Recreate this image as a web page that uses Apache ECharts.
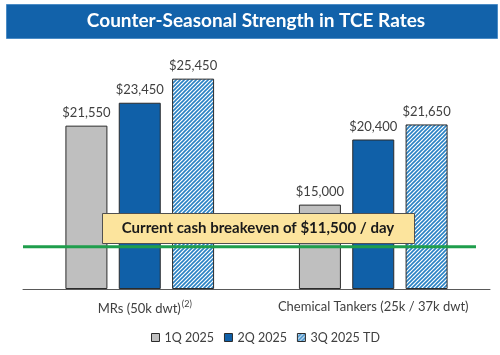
<!DOCTYPE html>
<html>
<head>
<meta charset="utf-8">
<script src="https://cdn.jsdelivr.net/npm/echarts@6/dist/echarts.min.js"></script>
<style>
html,body{margin:0;padding:0;background:#fff;}
#main{width:500px;height:355px;}
</style>
</head>
<body>
<div id="main"></div>
<script>
// ---- data ----
const titleText = 'Counter-Seasonal Strength in TCE Rates';
const categories = ['MRs (50k dwt)', 'Chemical Tankers (25k / 37k dwt)'];
const footnotes = ['(2)', ''];
const seriesNames = ['1Q 2025', '2Q 2025', '3Q 2025 TD'];
const q1Values = [21550, 15000];
const q2Values = [23450, 20400];
const q3Values = [25450, 21650];
const breakeven = 11500;
const calloutText = 'Current cash breakeven of $11,500 / day';

// ---- hatch pattern ----
function makeHatch() {
  const n = 4;
  const c = document.createElement('canvas');
  c.width = n; c.height = n;
  const ctx = c.getContext('2d');
  ctx.fillStyle = '#ffffff';
  ctx.fillRect(0, 0, n, n);
  ctx.strokeStyle = '#2a82c4';
  ctx.lineWidth = 1.6;
  ctx.beginPath();
  ctx.moveTo(-1, n + 1); ctx.lineTo(n + 1, -1);
  ctx.moveTo(-1, 1); ctx.lineTo(1, -1);
  ctx.moveTo(n - 1, n + 1); ctx.lineTo(n + 1, n - 1);
  ctx.stroke();
  return c;
}
const hatch = makeHatch();

const FONT = 'Lato';
const fmt = v => '$' + v.toLocaleString('en-US');

const chart = echarts.init(document.getElementById('main'), null, {renderer: 'canvas'});

function barSeries(name, data, color) {
  return {
    name: name,
    type: 'bar',
    data: data,
    barWidth: 42,
    barGap: '27%',
    clip: true,
    z: 2,
    itemStyle: {color: color, borderColor: '#2b2b2b', borderWidth: 1},
    label: {
      show: true, position: 'top', distance: 6,
      formatter: p => fmt(p.value),
      fontFamily: FONT, fontSize: 13, color: '#404040'
    }
  };
}

const option = {
  animation: false,
  backgroundColor: '#ffffff',
  grid: {left: 23, right: 10, top: 72, bottom: 66},
  legend: {
    data: seriesNames,
    bottom: 6,
    left: 146,
    itemWidth: 8, itemHeight: 8, itemGap: 10,
    icon: 'rect',
    textStyle: {fontFamily: FONT, fontSize: 12.5, color: '#404040'},
    itemStyle: {borderColor: '#2b2b2b', borderWidth: 1}
  },
  xAxis: [{
    type: 'category',
    data: categories,
    axisLine: {lineStyle: {color: '#595959', width: 1}},
    axisTick: {show: false},
    axisLabel: {
      interval: 0,
      hideOverlap: false,
      margin: 11,
      fontFamily: FONT, fontSize: 13, color: '#404040',
      formatter: (v, i) => footnotes[i] ? '{pad|}' + v + '{sup|' + footnotes[i] + '}' : v,
      rich: {
        pad: {width: 10},
        sup: {fontFamily: FONT, fontSize: 9, color: '#404040', verticalAlign: 'top', padding: [0, 0, 8, 1]}
      }
    }
  }, {
    type: 'value', min: 0, max: 1, show: false
  }],
  yAxis: {
    type: 'value', min: 8000, max: 26000, startValue: 8000, show: false,
    splitLine: {show: false}
  },
  series: [
    barSeries(seriesNames[0], q1Values, '#bfbfbf'),
    barSeries(seriesNames[1], q2Values, '#1060a8'),
    barSeries(seriesNames[2], q3Values, {image: hatch, repeat: 'repeat'}),
    {
      name: 'breakeven', type: 'line', xAxisIndex: 1, yAxisIndex: 0,
      data: [[0, breakeven], [0.97, breakeven]],
      symbol: 'none', silent: true, z: 5,
      lineStyle: {color: '#1f9e4c', width: 3}
    }
  ],
  graphic: [
    {
      type: 'rect', left: 6, top: 4, z: 100,
      shape: {width: 491, height: 34},
      style: {fill: '#1262aa', stroke: '#4b8cc6', lineWidth: 1}
    },
    {
      type: 'text', x: 256, y: 21, z: 101,
      style: {
        text: titleText, fill: '#ffffff', align: 'center', verticalAlign: 'middle',
        font: 'bold 19px ' + FONT
      }
    },
    {
      type: 'rect', left: 102, top: 213, z: 100,
      shape: {width: 312, height: 30},
      style: {fill: '#fce49d', stroke: '#505050', lineWidth: 1}
    },
    {
      type: 'text', x: 258, y: 228, z: 101,
      style: {
        text: calloutText, fill: '#1a1a1a', align: 'center', verticalAlign: 'middle',
        font: 'bold 15px ' + FONT
      }
    }
  ]
};
chart.setOption(option);
</script>
</body>
</html>
